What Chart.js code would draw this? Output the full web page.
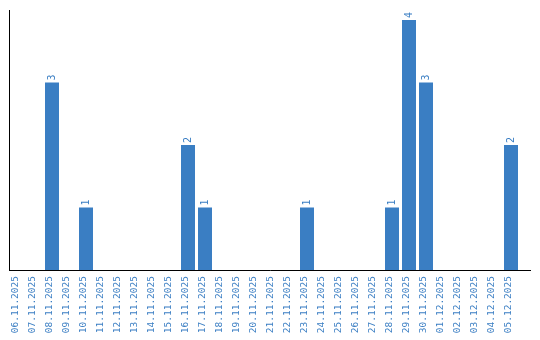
<!DOCTYPE html>
<html>
<head>
<meta charset="utf-8">
<script src="https://cdn.jsdelivr.net/npm/chart.js@4"></script>
<style>
  html, body { margin: 0; padding: 0; background: #fff; }
  #wrap { width: 540px; height: 340px; }
</style>
</head>
<body>
<div id="wrap"><canvas id="chart" width="540" height="340"></canvas></div>
<script>
// 날짜 / 값
const days = [
  '06.11.2025', '07.11.2025', '08.11.2025', '09.11.2025', '10.11.2025',
  '11.11.2025', '12.11.2025', '13.11.2025', '14.11.2025', '15.11.2025',
  '16.11.2025', '17.11.2025', '18.11.2025', '19.11.2025', '20.11.2025',
  '21.11.2025', '22.11.2025', '23.11.2025', '24.11.2025', '25.11.2025',
  '26.11.2025', '27.11.2025', '28.11.2025', '29.11.2025', '30.11.2025',
  '01.12.2025', '02.12.2025', '03.12.2025', '04.12.2025', '05.12.2025'
];
const counts = [
  0, 0, 3, 0, 1,
  0, 0, 0, 0, 0,
  2, 1, 0, 0, 0,
  0, 0, 1, 0, 0,
  0, 0, 1, 4, 3,
  0, 0, 0, 0, 2
];

const blue = '#3a7ec3';
const monoFont = { family: 'DejaVu Sans Mono', size: 9.5 };

// 막대 위 숫자 (세로로)
const valueLabels = {
  id: 'valueLabels',
  afterDatasetsDraw(chart) {
    const ctx = chart.ctx;
    const meta = chart.getDatasetMeta(0);
    ctx.save();
    ctx.fillStyle = blue;
    ctx.font = '10px "DejaVu Sans Mono"';
    ctx.textAlign = 'left';
    ctx.textBaseline = 'middle';
    meta.data.forEach((bar, i) => {
      if (!counts[i]) return;
      ctx.save();
      ctx.translate(bar.x, bar.y - 2);
      ctx.rotate(-Math.PI / 2);
      ctx.fillText(String(counts[i]), 0, 0);
      ctx.restore();
    });
    ctx.restore();
  }
};

// 아래쪽 축선 (오른쪽으로 조금 더 길게)
const baseLine = {
  id: 'baseLine',
  afterDraw(chart) {
    const ctx = chart.ctx;
    const a = chart.chartArea;
    ctx.save();
    ctx.strokeStyle = '#000';
    ctx.lineWidth = 1;
    ctx.beginPath();
    ctx.moveTo(a.left, Math.round(a.bottom) + 0.5);
    ctx.lineTo(531, Math.round(a.bottom) + 0.5);
    ctx.stroke();
    ctx.restore();
  }
};

new Chart(document.getElementById('chart'), {
  type: 'bar',
  data: {
    labels: days,
    datasets: [{
      data: counts,
      backgroundColor: blue,
      categoryPercentage: 14 / 17,
      barPercentage: 1.0
    }]
  },
  options: {
    responsive: false,
    animation: false,
    layout: { padding: { left: 9.5, top: 10, right: 20.5, bottom: 0 } },
    plugins: {
      legend: { display: false },
      tooltip: { enabled: false }
    },
    scales: {
      x: {
        grid: { display: false, drawTicks: false },
        border: { display: false },
        ticks: {
          color: blue,
          font: monoFont,
          minRotation: 90,
          maxRotation: 90,
          autoSkip: false,
          padding: 6,
          labelOffset: -2
        },
        afterFit(scale) { scale.height = 70; }
      },
      y: {
        min: 0,
        max: 4.16,
        grid: { display: false, drawTicks: false },
        border: { display: true, color: '#000', width: 1 },
        ticks: { display: false },
        afterFit(scale) { scale.width = 0; }
      }
    }
  },
  plugins: [valueLabels, baseLine]
});
</script>
</body>
</html>
